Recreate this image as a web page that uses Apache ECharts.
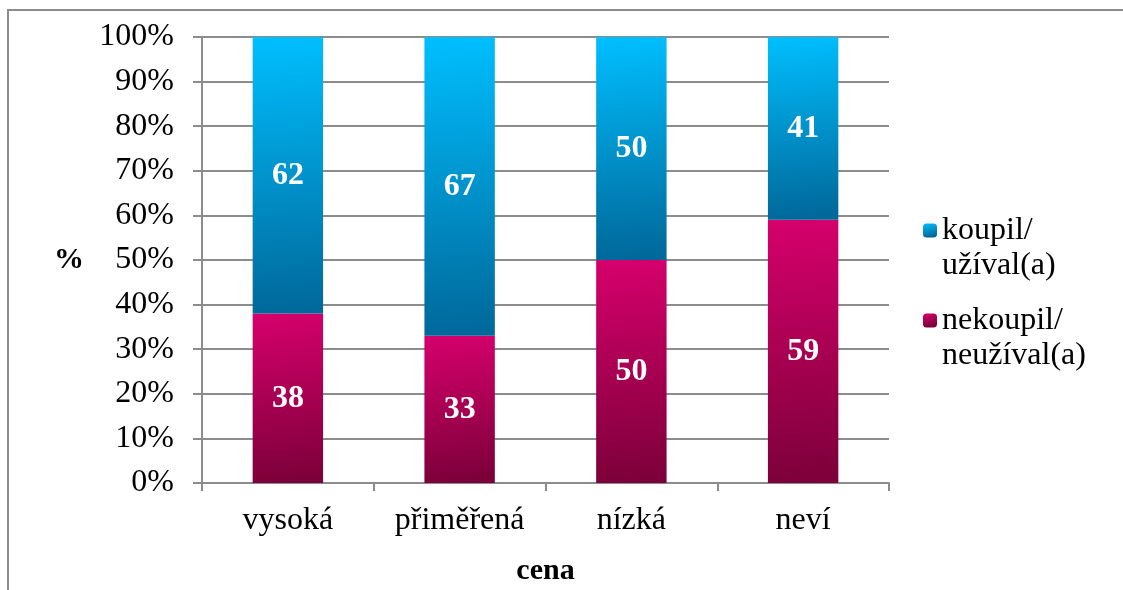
<!DOCTYPE html>
<html>
<head>
<meta charset="utf-8">
<script src="https://cdn.jsdelivr.net/npm/echarts@6/dist/echarts.min.js"></script>
<style>
  html, body { margin: 0; padding: 0; background: #fff; }
  #chart { width: 1123px; height: 590px; }
</style>
</head>
<body>
<div id="chart"></div>
<script>
// data
const categories = ['vysoká', 'přiměřená', 'nízká', 'neví'];
const nekoupil = [38, 33, 50, 59];
const koupil = [62, 67, 50, 41];
const seriesNames = ['koupil/\nužíval(a)', 'nekoupil/\nneužíval(a)'];

const font = '"Liberation Serif", "Times New Roman", serif';
const axisGray = '#8c8c8c';

function grad(top, bottom) {
  return new echarts.graphic.LinearGradient(0, 0, 0.25, 1, [
    { offset: 0, color: top },
    { offset: 1, color: bottom }
  ]);
}

const labelStyle = {
  show: true,
  position: 'inside',
  color: '#fff',
  fontFamily: font,
  fontWeight: 'bold',
  fontSize: 32
};

const chart = echarts.init(document.getElementById('chart'));
chart.setOption({
  animation: false,
  grid: { left: 202, right: 234, top: 37, bottom: 107, outerBoundsMode: 'none', containLabel: false },
  legend: {
    orient: 'vertical',
    left: 923,
    top: 178,
    padding: 0,
    itemWidth: 14,
    itemHeight: 14,
    itemGap: -15,
    data: [seriesNames[0], seriesNames[1]],
    // blank first line so the marker sits next to the first text line
    formatter: name => ' \n' + name,
    textStyle: { fontFamily: font, fontSize: 32, color: '#000', lineHeight: 35 }
  },
  xAxis: {
    type: 'category',
    data: categories,
    name: 'cena',
    nameLocation: 'middle',
    nameGap: 73,
    nameTextStyle: { fontFamily: font, fontSize: 30, fontWeight: 'bold', color: '#000' },
    axisLine: { lineStyle: { color: axisGray, width: 2 } },
    axisTick: { show: true, length: 8, lineStyle: { color: axisGray, width: 2 } },
    axisLabel: { fontFamily: font, fontSize: 32, color: '#000', margin: 22 }
  },
  yAxis: {
    type: 'value',
    min: 0,
    max: 100,
    interval: 10,
    name: '%',
    nameLocation: 'middle',
    nameRotate: 0,
    nameGap: 118,
    nameTextStyle: { fontFamily: font, fontSize: 30, fontWeight: 'bold', color: '#000' },
    axisLine: { show: true, lineStyle: { color: axisGray, width: 2 } },
    axisTick: { show: true, length: 9, lineStyle: { color: axisGray, width: 2 } },
    splitLine: { lineStyle: { color: axisGray, width: 2 } },
    axisLabel: { fontFamily: font, fontSize: 32, color: '#000', margin: 28, formatter: '{value}%' }
  },
  series: [
    {
      name: seriesNames[1],
      type: 'bar',
      stack: 'total',
      barWidth: '41%',
      data: nekoupil,
      itemStyle: { color: grad('#d6006c', '#7c0039') },
      label: labelStyle
    },
    {
      name: seriesNames[0],
      type: 'bar',
      stack: 'total',
      barWidth: '41%',
      data: koupil,
      itemStyle: { color: grad('#00bfff', '#00689a') },
      label: labelStyle
    }
  ],
  graphic: [{
    type: 'rect',
    shape: { x: 8, y: 10, width: 1300, height: 800 },
    style: { fill: 'none', stroke: '#8c8c8c', lineWidth: 2 },
    silent: true
  }]
});
</script>
</body>
</html>
